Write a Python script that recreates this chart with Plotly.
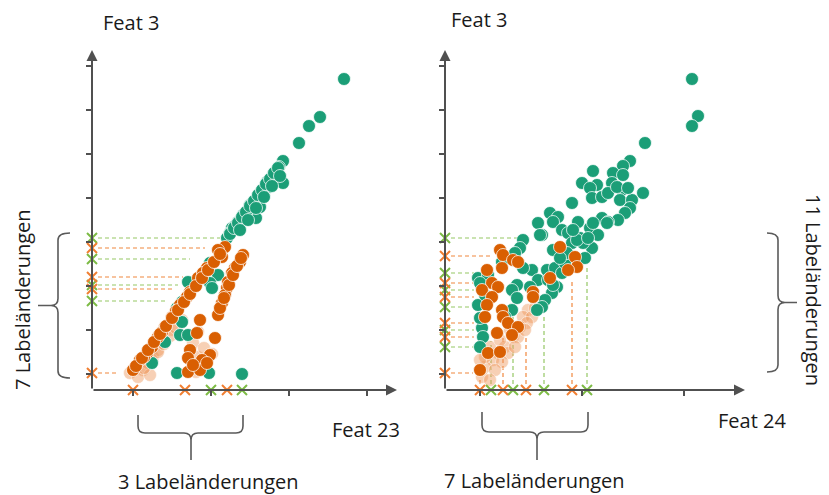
import plotly.graph_objects as go

W, H = 829, 495

# ---------------- data: left panel (Feat 23 vs Feat 3) ----------------
left_green_x = [252, 228, 217, 207, 191, 187, 191, 181, 177, 171, 165, 168, 164, 158, 151, 146, 140, 135,
                175, 156, 143, 138, 118, 126, 118, 120, 100, 90, 85, 90, 88, 96, 73, 60, 85, 117, 150,
                138, 142, 146, 150, 154, 158, 162, 166, 170, 174, 178, 182, 186,
                148, 156, 164, 172, 180, 188, 101, 96]
left_green_y = [311, 273, 264, 247, 229, 223, 207, 215, 203, 200, 192, 183, 172, 185, 175, 168, 162, 152,
                208, 180, 164, 157, 127, 115, 107, 102, 105, 88, 82, 68, 55, 55, 48, 27, 17, 17, 16,
                156, 162, 167, 173, 178, 184, 189, 195, 200, 206, 211, 217, 222,
                160, 170, 182, 193, 204, 214, 103, 108]
left_orange_x = [133, 130, 126, 115, 106, 98, 95, 88, 80, 73, 66, 60, 55, 48, 41, 84, 70, 52, 111,
                 151, 148, 143, 140, 136, 135, 133, 130, 126,
                 108, 105, 123, 98, 96, 118, 110, 96, 108, 115, 101,
                 44, 50, 56, 62, 68, 74, 80, 86, 92, 98, 104, 110, 116, 122, 128,
                 128, 132, 137, 141, 145, 149]
left_orange_y = [143, 133, 140, 122, 112, 98, 93, 85, 73, 63, 53, 43, 37, 30, 20, 79, 58, 33, 117,
                 135, 128, 122, 117, 108, 102, 95, 87, 75,
                 70, 57, 52, 40, 32, 35, 30, 18, 20, 27, 25,
                 24, 32, 40, 48, 56, 64, 72, 80, 88, 96, 104, 112, 120, 128, 136,
                 82, 92, 105, 115, 124, 132]
left_faded_x = [38, 51, 56, 61, 46, 66, 71, 101, 100, 106, 104, 112, 80, 58,
                52, 60, 66, 72, 78, 84, 90, 112, 120, 106]
left_faded_y = [17, 20, 27, 33, 13, 40, 47, 47, 27, 33, 18, 24, 60, 15,
                22, 30, 38, 46, 54, 62, 70, 42, 36, 58]

left_ychg_y = [152, 142, 131, 113, 105, 101, 89, 17]
left_ychg_cls = ["g", "o", "g", "o", "g", "o", "g", "o"]
left_ychg_end = [128, 113, 98, 91, 86, 80, 76, 25]
left_xchg_x = [41, 93, 119, 135, 150]
left_xchg_cls = ["o", "o", "g", "o", "g"]

# ---------------- data: right panel (Feat 24 vs Feat 3) ----------------
right_green_x = [247, 253, 247, 200, 185, 178, 168, 178, 148, 137, 152, 167, 145, 177, 198, 147, 157, 163,
                 175, 187, 172, 183, 127,
                 185, 180, 173, 105, 113, 108, 93, 97, 117, 123, 133, 145, 157, 163, 153, 162, 148, 127,
                 135, 147, 140, 138, 132, 95, 78, 75, 70, 57, 87, 78, 102, 110, 117, 120, 93, 103, 112,
                 107, 100, 97, 85, 72, 67, 72, 67, 60, 33, 43, 35, 33, 37, 38, 35, 40, 35, 108, 122, 128,
                 108, 92, 115, 143]
right_green_y = [311, 274, 264, 247, 229, 224, 217, 215, 219, 207, 205, 207, 202, 200, 197, 192, 193, 197,
                 190, 190, 203, 202, 187,
                 182, 177, 170, 177, 173, 168, 167, 155, 160, 157, 168, 162, 172, 168, 155, 167, 167, 147,
                 152, 142, 132, 147, 150, 155, 150, 142, 137, 128, 120, 122, 120, 122, 117, 127, 110, 110, 103,
                 97, 90, 83, 103, 105, 100, 92, 80, 73, 112, 115, 107, 85, 62, 53, 43, 95, 72, 140, 137, 160,
                 105, 80, 132, 152]
right_orange_x = [55, 58, 68, 73, 115, 130, 132, 123, 105, 88, 88, 57, 42, 47, 53, 37, 47, 42, 40, 57,
                  58, 63, 73, 52, 67, 35, 43, 55]
right_orange_y = [140, 135, 130, 128, 143, 133, 123, 120, 112, 98, 93, 122, 120, 107, 103, 100, 93, 85, 73, 80,
                  73, 67, 63, 57, 55, 20, 37, 38]
right_faded_x = [83, 78, 87, 82, 75, 68, 60, 53, 48, 40, 63, 57, 50, 73, 45, 40, 70, 90, 37, 45, 35, 65, 55, 80]
right_faded_y = [80, 73, 73, 67, 63, 53, 43, 37, 30, 23, 37, 28, 20, 53, 43, 33, 43, 82, 13, 10, 30, 60, 50, 60]

right_ychg_y = [152, 134, 117, 107, 100, 93, 83, 67, 60, 53, 43, 17]
right_ychg_cls = ["g", "o", "g", "o", "g", "o", "g", "o", "g", "o", "g", "o"]
right_ychg_end = [76, 48, 29, 29, 29, 29, 29, 29, 29, 29, 30, 28]
right_xchg_x = [35, 46, 58, 68, 81, 99, 127, 142]
right_xchg_cls = ["o", "g", "o", "g", "o", "g", "o", "g"]
right_xchg_top = [13, 49, 57, 74, 55, 76, 108, 125]

tick_y = [16, 60, 104, 148, 192, 236, 280, 324]
left_tick_x = [41, 119, 197, 275]
right_tick_x = [35, 137, 239]

# ---------------- styles ----------------
GREEN = "#1b9e77"
ORANGE = "#d95f02"
FADED = "rgba(238,150,90,0.45)"
X_COL = {"g": "#7dbb45", "o": "#f07f32"}
DASH_COL = {"g": "#95c765", "o": "#f0883e"}
AXIS_COL = "#505050"
FONT = "Open Sans"

fig = go.Figure()


def pts(xs, ys, color, xa, ya, line_col="rgba(255,255,255,0.75)", opacity=1.0):
    fig.add_trace(go.Scatter(
        x=xs, y=ys, mode="markers", xaxis=xa, yaxis=ya, opacity=opacity,
        marker=dict(size=13, color=color, line=dict(color=line_col, width=1)),
        hoverinfo="skip", showlegend=False, cliponaxis=False))


def hlines(ys, ends, cls, xa, ya, start=6):
    for c in ("g", "o"):
        lx, ly = [], []
        for y, e, k in zip(ys, ends, cls):
            if k == c:
                lx += [start, e, None]
                ly += [y, y, None]
        fig.add_trace(go.Scatter(x=lx, y=ly, mode="lines", xaxis=xa, yaxis=ya,
                                 line=dict(color=DASH_COL[c], width=1.2, dash="4px,3px"),
                                 hoverinfo="skip", showlegend=False, cliponaxis=False))


def vlines(xs, tops, cls, xa, ya, start=6):
    for c in ("g", "o"):
        lx, ly = [], []
        for x, t, k in zip(xs, tops, cls):
            if k == c:
                lx += [x, x, None]
                ly += [start, t, None]
        fig.add_trace(go.Scatter(x=lx, y=ly, mode="lines", xaxis=xa, yaxis=ya,
                                 line=dict(color=DASH_COL[c], width=1.2, dash="4px,3px"),
                                 hoverinfo="skip", showlegend=False, cliponaxis=False))


def xmarks(xs, ys, cls, xa, ya):
    for c in ("g", "o"):
        mx = [x for x, k in zip(xs, cls) if k == c]
        my = [y for y, k in zip(ys, cls) if k == c]
        fig.add_trace(go.Scatter(x=mx, y=my, mode="markers", xaxis=xa, yaxis=ya,
                                 marker=dict(symbol="x-thin", size=10, color=X_COL[c],
                                             line=dict(color=X_COL[c], width=2)),
                                 hoverinfo="skip", showlegend=False, cliponaxis=False))


# left panel
hlines(left_ychg_y, left_ychg_end, left_ychg_cls, "x", "y")
pts(left_faded_x, left_faded_y, FADED, "x", "y", line_col="rgba(255,255,255,0.5)")
pts(left_green_x, left_green_y, GREEN, "x", "y")
pts(left_orange_x, left_orange_y, ORANGE, "x", "y")
xmarks([0] * len(left_ychg_y), left_ychg_y, left_ychg_cls, "x", "y")
xmarks(left_xchg_x, [0] * len(left_xchg_x), left_xchg_cls, "x", "y")

# right panel
hlines(right_ychg_y, right_ychg_end, right_ychg_cls, "x2", "y2")
vlines(right_xchg_x, right_xchg_top, right_xchg_cls, "x2", "y2")
pts(right_faded_x, right_faded_y, FADED, "x2", "y2", line_col="rgba(255,255,255,0.5)")
pts(right_green_x, right_green_y, GREEN, "x2", "y2")
pts(right_orange_x, right_orange_y, ORANGE, "x2", "y2")
xmarks([0] * len(right_ychg_y), right_ychg_y, right_ychg_cls, "x2", "y2")
xmarks(right_xchg_x, [0] * len(right_xchg_x), right_xchg_cls, "x2", "y2")


def px(x):
    return x / W


def py(y):
    return 1 - y / H


ydom = [py(390), py(50)]
common = dict(showgrid=False, zeroline=False, showline=False, showticklabels=False,
              ticks="outside", ticklen=5, tickwidth=1.5, tickcolor=AXIS_COL, fixedrange=True)
fig.update_layout(
    xaxis=dict(domain=[px(92), px(397)], range=[0, 305], tickvals=left_tick_x, anchor="y", **common),
    yaxis=dict(domain=ydom, range=[0, 340], tickvals=tick_y, anchor="x", **common),
    xaxis2=dict(domain=[px(445), px(745)], range=[0, 300], tickvals=right_tick_x, anchor="y2", **common),
    yaxis2=dict(domain=ydom, range=[0, 340], tickvals=tick_y, anchor="x2", **common),
)

ann = []
# axis arrows
for xa, ya, xmax in (("x", "y", 305), ("x2", "y2", 300)):
    for (tx, ty) in ((xmax, 0), (0, 340)):
        ann.append(dict(x=tx, y=ty, ax=0, ay=0, xref=xa, yref=ya, axref=xa, ayref=ya,
                        text="", showarrow=True, arrowhead=2, arrowsize=1.1, arrowwidth=2,
                        arrowcolor=AXIS_COL, standoff=0, startstandoff=0))


def label(text, x, y, angle=0):
    ann.append(dict(x=px(x), y=py(y), xref="paper", yref="paper", text=text, showarrow=False,
                    textangle=angle, xanchor="center", yanchor="middle",
                    font=dict(family=FONT, size=20, color="#1a1a1a")))


label("Feat 3", 131, 23)
label("Feat 3", 479, 19)
label("Feat 23", 366, 429)
label("Feat 24", 752, 420)
label("3 Labeländerungen", 208, 481)
label("7 Labeländerungen", 534, 480)
label("7 Labeländerungen", 22, 300, -90)
label("11 Labeländerungen", 814, 290, 90)


def P(x, y):
    return f"{px(x):.5f},{py(y):.5f}"


def vbrace(x, y0, y1, tip, hook):
    ym = (y0 + y1) / 2
    s = 1 if hook > x else -1
    r = 7
    return (f"M {P(hook, y0)} Q {P(x, y0)} {P(x, y0 + r)} L {P(x, ym - r)} "
            f"Q {P(x, ym)} {P(x - s * r, ym)} L {P(tip, ym)} "
            f"M {P(x - s * r, ym)} Q {P(x, ym)} {P(x, ym + r)} L {P(x, y1 - r)} "
            f"Q {P(x, y1)} {P(hook, y1)}")


def hbrace(x0, x1, y, top, tip, xm):
    r = 7
    return (f"M {P(x0, top)} L {P(x0, y - r)} Q {P(x0, y)} {P(x0 + r, y)} L {P(xm - r, y)} "
            f"Q {P(xm, y)} {P(xm, y + r)} L {P(xm, tip)} "
            f"M {P(xm, y + r)} Q {P(xm, y)} {P(xm + r, y)} L {P(x1 - r, y)} "
            f"Q {P(x1, y)} {P(x1, y - r)} L {P(x1, top)}")


shapes = []
for path in (vbrace(58, 233, 378, 38, 70), vbrace(778, 233, 372, 797, 767),
             hbrace(138, 243, 433, 415, 460, 191), hbrace(482, 588, 432, 412, 460, 537)):
    shapes.append(dict(type="path", path=path, xref="paper", yref="paper",
                       line=dict(color="#5a5a5a", width=1.6)))

fig.update_layout(annotations=ann, shapes=shapes, width=W, height=H, autosize=False,
                  margin=dict(l=0, r=0, t=0, b=0), paper_bgcolor="white", plot_bgcolor="white",
                  showlegend=False)

fig.write_html("out.html", config={"displayModeBar": False})
